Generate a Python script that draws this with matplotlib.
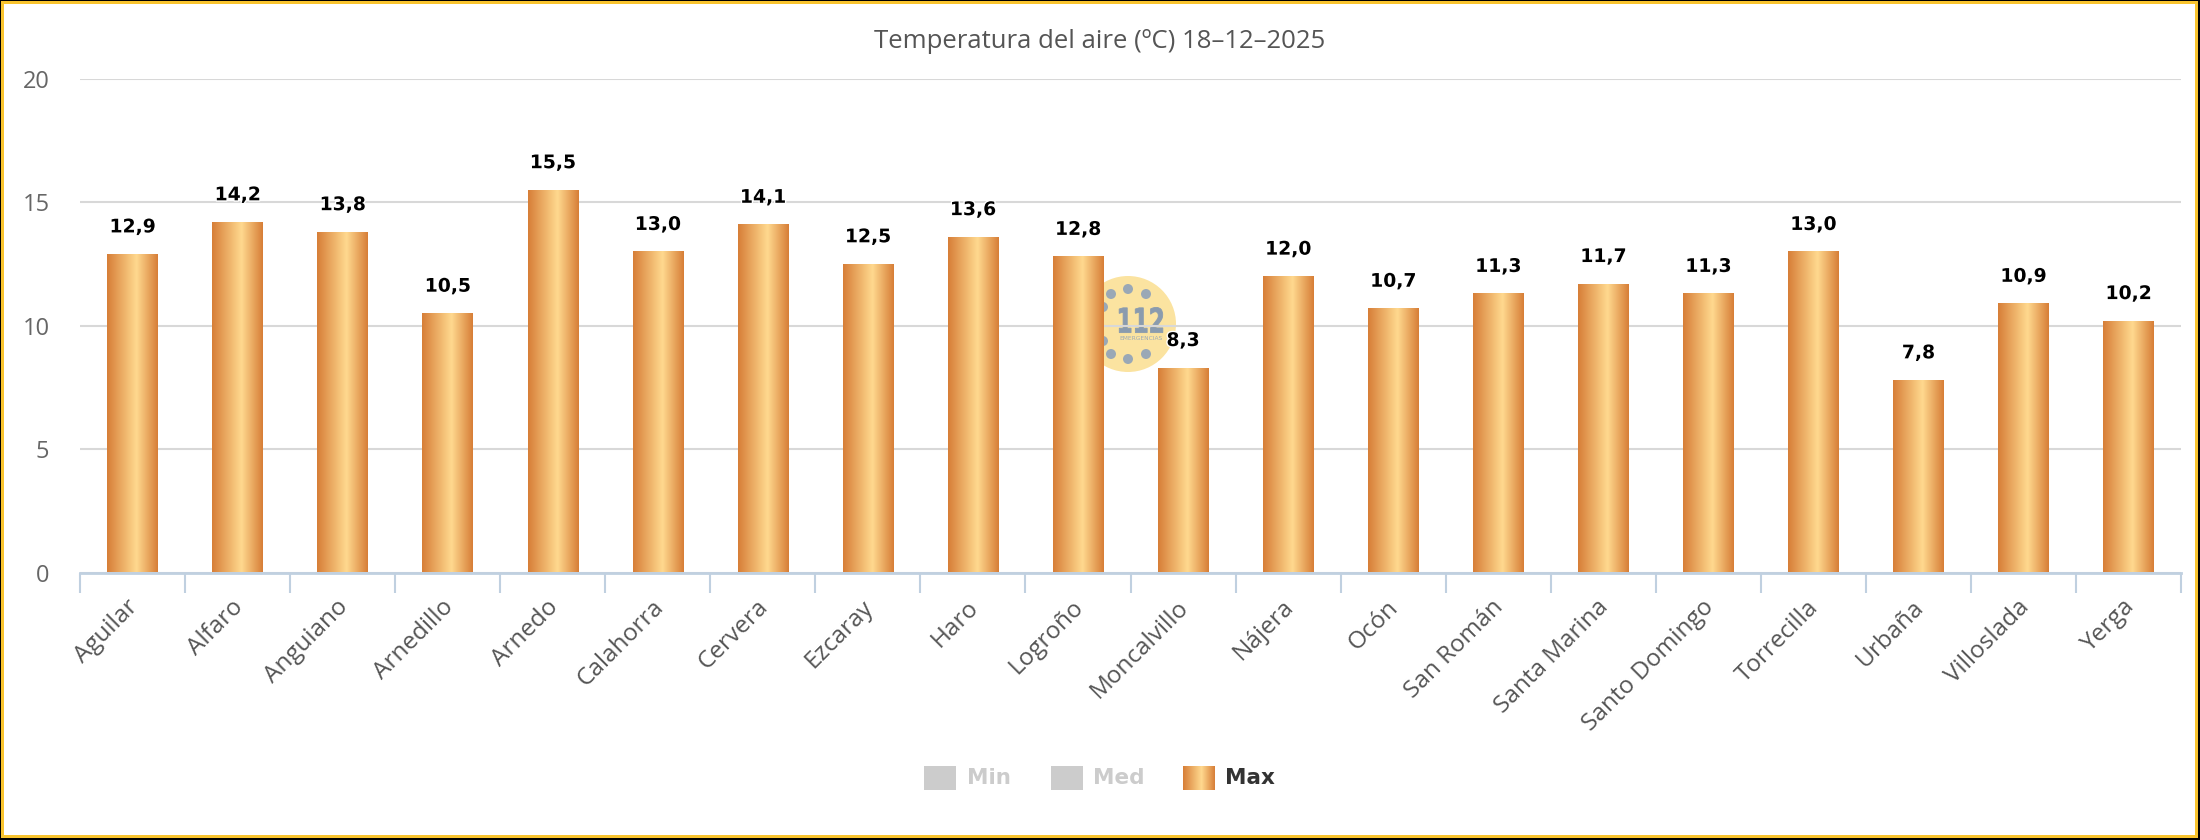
import numpy as np
import matplotlib
matplotlib.use("Agg")
import matplotlib.pyplot as plt
from matplotlib.colors import LinearSegmentedColormap
from matplotlib.patches import Rectangle, Circle, PathPatch
from matplotlib.transforms import IdentityTransform, Affine2D
from matplotlib.textpath import TextPath
from matplotlib.font_manager import FontProperties
import matplotlib.patheffects as pe

# ---- data ----
stations = ["Aguilar", "Alfaro", "Anguiano", "Arnedillo", "Arnedo", "Calahorra",
            "Cervera", "Ezcaray", "Haro", "Logroño", "Moncalvillo", "Nájera",
            "Ocón", "San Román", "Santa Marina", "Santo Domingo", "Torrecilla",
            "Urbaña", "Villoslada", "Yerga"]
tmax = [12.9, 14.2, 13.8, 10.5, 15.5, 13.0, 14.1, 12.5, 13.6, 12.8, 8.3, 12.0,
        10.7, 11.3, 11.7, 11.3, 13.0, 7.8, 10.9, 10.2]
y_ticks = [0, 5, 10, 15, 20]
legend_names = ["Min", "Med", "Max"]
title = "Temperatura del aire (ºC) 18–12–2025"

W, H = 2200, 840
fig = plt.figure(figsize=(W / 100, H / 100), dpi=100)
fig.patch.set_facecolor("black")
# white card with yellow border
card = Rectangle((1.5, 4.5), 2194, 834, transform=IdentityTransform(),
                 facecolor="white", edgecolor="#F9C42E", linewidth=3 * 0.72,
                 zorder=-10, antialiased=False)
fig.patches.append(card)

L, R, T, B = 80, 2181, 78.6, 572.5
ax = fig.add_axes([L / W, (H - B) / H, (R - L) / W, (B - T) / H])
ax.set_facecolor("none")

grad_cmap = LinearSegmentedColormap.from_list(
    "bar", [(0.0, "#D77E37"), (0.58, "#FFD98F"), (1.0, "#D77E37")])
grad = np.linspace(0, 1, 256).reshape(1, -1)

x = np.arange(len(stations))
bars = ax.bar(x, tmax, width=0.48, facecolor="none", edgecolor="none", zorder=2)
for p in bars.patches:
    bx, by = p.get_x(), p.get_y()
    im = ax.imshow(grad, cmap=grad_cmap, extent=[bx, bx + p.get_width(), by, by + p.get_height()],
                   aspect="auto", zorder=2, interpolation="bilinear")
    im.set_clip_path(p)

for xi, v in zip(x, tmax):
    ax.annotate(f"{v:.1f}".replace(".", ","), xy=(xi, v), xytext=(0, 15.5),
                textcoords="offset points", ha="center", va="baseline",
                fontsize=13.5, fontweight="bold", color="black", zorder=5,
                path_effects=[pe.withStroke(linewidth=2, foreground="white")])

ax.set_xlim(-0.5, len(stations) - 0.5)
ax.set_ylim(0, 20)
ax.set_yticks(y_ticks)
ax.set_yticklabels([str(t) for t in y_ticks], fontsize=17, color="#666666", family="Open Sans")
ax.tick_params(axis="y", length=0, pad=22)
ax.grid(axis="y", color="#D8D8D8", linewidth=1.5)
ax.set_axisbelow(True)

# category boundary ticks
ax.set_xticks(np.arange(len(stations) + 1) - 0.5)
ax.set_xticklabels([])
ax.tick_params(axis="x", which="major", length=14.5, width=1.5, color="#C0D0E0", direction="out")
ax.set_xticks(x, minor=True)
ax.set_xticklabels(stations, minor=True, rotation=45, ha="right", va="center_baseline",
                   rotation_mode="anchor", fontsize=17.5, color="#555555", family="Open Sans")
ax.tick_params(axis="x", which="minor", length=0, pad=21)

for s in ["top", "right", "left"]:
    ax.spines[s].set_visible(False)
ax.spines["bottom"].set_color("#C0D0E0")
ax.spines["bottom"].set_linewidth(2)
ax.spines["bottom"].set_zorder(3)

# 112 watermark (decoration)
cx, cy = 1128, H - 324
logo = Circle((cx, cy), 48, transform=IdentityTransform(), facecolor="#FBE3A0",
              edgecolor="none", zorder=0.1)
ax.add_artist(logo)
for dx, dy in [(-25, 17), (-17, 30), (0, 35), (18, 30), (-25, -17), (-17, -30), (0, -35), (18, -30)]:
    ax.add_artist(Circle((cx + dx, cy + dy), 5, transform=IdentityTransform(),
                         facecolor="#9AA8B6", edgecolor="none", zorder=0.15))
tp = TextPath((0, 0), "112", size=34, prop=FontProperties(family="DejaVu Sans", weight="bold"))
ext = tp.get_extents()
tr = (Affine2D().translate(-(ext.x0 + ext.x1) / 2, -(ext.y0 + ext.y1) / 2)
      .scale(0.68, 1.0).translate(1141, H - 320) + IdentityTransform())
ax.add_artist(PathPatch(tp, transform=tr, facecolor="#8A9BAE", edgecolor="#8A9BAE",
                        linewidth=0.6, zorder=0.2))
fig.text(1141 / W, (H - 338) / H, "EMERGENCIAS", ha="center", va="center", fontsize=4.2,
         color="#9DAAB6", zorder=0.2)

# title
fig.text(1100 / W, (H - 41) / H, title, ha="center", va="center", fontsize=18.5,
         color="#555555", family="Open Sans")

# legend (manual)
ly = 778
sq_w, sq_h = 32, 24
items = [(924, 967, "#CCCCCC", "#CCCCCC", False),
         (1051, 1093, "#CCCCCC", "#CCCCCC", False),
         (1183, 1225, None, "#333333", True)]
for (sx, tx, fc, tc, is_grad), name in zip(items, legend_names):
    if is_grad:
        lax = fig.add_axes([sx / W, (H - ly - sq_h / 2) / H, sq_w / W, sq_h / H])
        lax.imshow(grad, cmap=grad_cmap, aspect="auto", interpolation="bilinear")
        lax.axis("off")
    else:
        fig.patches.append(Rectangle((sx, H - ly - sq_h / 2), sq_w, sq_h,
                                     transform=IdentityTransform(), facecolor=fc,
                                     edgecolor="none"))
    fig.text(tx / W, (H - ly) / H, name, ha="left", va="center", fontsize=15.5,
             fontweight="bold", color=tc)

fig.savefig("out.png", dpi=100, facecolor=fig.get_facecolor())
